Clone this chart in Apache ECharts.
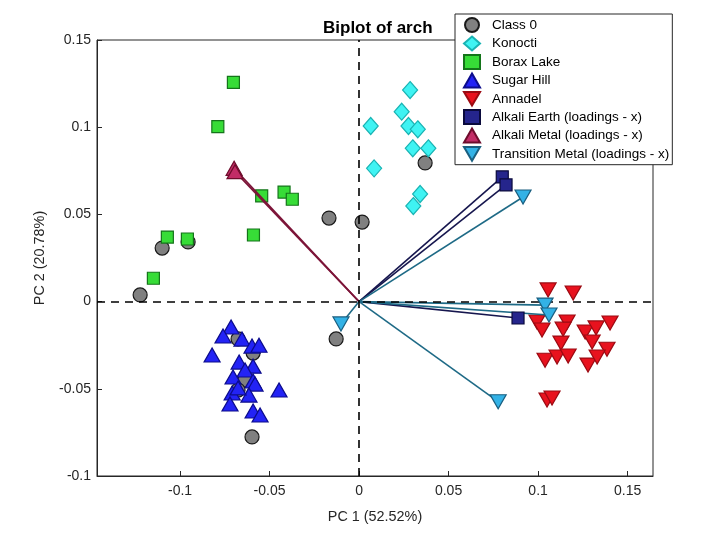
<!DOCTYPE html>
<html>
<head>
<meta charset="utf-8">
<script src="https://cdn.jsdelivr.net/npm/echarts@6/dist/echarts.min.js"></script>
<style>
html, body { margin: 0; padding: 0; background: #fff; }
#chart { width: 726px; height: 536px; }
</style>
</head>
<body>
<div id="chart"></div>
<script>
// scores per class (PC1, PC2)
const class0 = [
	[-0.1223, 0.0038], [-0.1100, 0.0307], [-0.0955, 0.0342], [-0.0168, 0.0479],
	[0.0017, 0.0456], [0.0369, 0.0795], [-0.0128, -0.0214], [-0.0598, -0.0776],
	[-0.0676, -0.0214], [-0.0592, -0.0295], [-0.0637, -0.0450], [-0.0676, -0.0507],
]
const konocti = [
	[0.0285, 0.1213], [0.0238, 0.1089], [0.0065, 0.1007], [0.0276, 0.1007],
	[0.0328, 0.0988], [0.0300, 0.0879], [0.0387, 0.0879], [0.0084, 0.0764],
	[0.0341, 0.0617], [0.0303, 0.0548],
]
const boraxLake = [
	[-0.0702, 0.1257], [-0.0789, 0.1003], [-0.0544, 0.0606], [-0.0419, 0.0628],
	[-0.0373, 0.0587], [-0.0590, 0.0382], [-0.1071, 0.0370], [-0.0959, 0.0359],
	[-0.1149, 0.0134],
]
const sugarHill = [
	[-0.0715, -0.0146], [-0.0760, -0.0197], [-0.0654, -0.0215], [-0.0598, -0.0255],
	[-0.0559, -0.0250], [-0.0821, -0.0306], [-0.0670, -0.0347], [-0.0592, -0.0370],
	[-0.0637, -0.0392], [-0.0704, -0.0432], [-0.0592, -0.0455], [-0.0581, -0.0473],
	[-0.0447, -0.0507], [-0.0615, -0.0536], [-0.0709, -0.0524], [-0.0676, -0.0495],
	[-0.0721, -0.0587], [-0.0592, -0.0627], [-0.0553, -0.0650],
]
const annadel = [
	[0.1056, 0.0067], [0.1196, 0.0049], [0.0994, -0.0117], [0.1022, -0.0163],
	[0.1162, -0.0117], [0.1140, -0.0158], [0.1263, -0.0174], [0.1324, -0.0151],
	[0.1402, -0.0123], [0.1302, -0.0232], [0.1128, -0.0238], [0.1385, -0.0273],
	[0.1039, -0.0336], [0.1106, -0.0318], [0.1168, -0.0312], [0.1279, -0.0364],
	[0.1330, -0.0318], [0.1050, -0.0564], [0.1078, -0.0553],
]
// loadings
const alkaliEarth = [[0.0800, 0.0715], [0.0821, 0.0669], [0.0888, -0.0094]]
const alkaliMetal = [[-0.0698, 0.0764], [-0.0693, 0.0745]]
const transitionMetal = [
	[0.0916, 0.0600], [0.1039, -0.0020], [0.1061, -0.0077], [0.0777, -0.0574], [-0.0101, -0.0128],
]

const xTicks = [-0.1, -0.05, 0, 0.05, 0.1, 0.15]
const font = 'Liberation Sans, Helvetica, Arial, sans-serif'
const downTri = 'path://M0,0L20,0L10,17Z'

function scoreSeries(name, data, symbol, size, fill, edge) {
	return {
		name: name,
		type: 'scatter',
		data: data,
		symbol: symbol,
		symbolSize: size,
		itemStyle: { color: fill, borderColor: edge, borderWidth: 1.2, opacity: 1 },
		z: 3,
	}
}

function loadingLines(data, color) {
	return {
		type: 'lines',
		coordinateSystem: 'cartesian2d',
		silent: true,
		data: data.map((p) => ({ coords: [[0, 0], p] })),
		lineStyle: { color: color, width: 1.6, opacity: 1 },
		z: 4,
	}
}

const chart = echarts.init(document.getElementById('chart'))
const option = {
	backgroundColor: '#fff',
	animation: false,
	title: {
		text: 'Biplot of arch',
		left: 318,
		top: 15,
		textStyle: { fontFamily: font, fontSize: 17, fontWeight: 'bold', color: '#000' },
	},
	grid: {
		left: 97,
		top: 40,
		width: 556,
		height: 436,
		show: true,
		borderColor: '#262626',
		borderWidth: 1,
		backgroundColor: '#fff',
	},
	legend: {
		orient: 'vertical',
		left: 455,
		top: 14,
		padding: [3, 3, 3, 8],
		itemWidth: 16,
		itemHeight: 14,
		itemGap: 2.5,
		backgroundColor: '#fff',
		borderColor: '#262626',
		borderWidth: 1,
		borderRadius: 0,
		textStyle: { fontFamily: font, fontSize: 13.5, color: '#000', padding: [0, 0, 0, 7] },
		z: 10,
		data: ['Class 0', 'Konocti', 'Borax Lake', 'Sugar Hill', 'Annadel',
			'Alkali Earth (loadings - x)', 'Alkali Metal (loadings - x)', 'Transition Metal (loadings - x)'],
	},
	xAxis: {
		type: 'value',
		min: -0.1464,
		max: 0.1642,
		name: 'PC 1 (52.52%)',
		nameLocation: 'middle',
		nameGap: 34,
		nameTextStyle: { fontFamily: font, fontSize: 14.4, color: '#262626' },
		axisLine: { onZero: false, lineStyle: { color: '#262626' } },
		axisTick: { inside: true, length: 5, customValues: xTicks, lineStyle: { color: '#262626' } },
		axisLabel: {
			customValues: xTicks,
			fontFamily: font, fontSize: 14, color: '#262626', margin: 8,
			formatter: (v) => String(+(+v).toFixed(2)),
		},
		splitLine: { show: false },
	},
	yAxis: {
		type: 'value',
		min: -0.1,
		max: 0.15,
		interval: 0.05,
		name: 'PC 2 (20.78%)',
		nameLocation: 'middle',
		nameGap: 50,
		nameTextStyle: { fontFamily: font, fontSize: 14.4, color: '#262626' },
		axisLine: { onZero: false, lineStyle: { color: '#262626' } },
		axisTick: { inside: true, length: 5, lineStyle: { color: '#262626' } },
		axisLabel: {
			fontFamily: font, fontSize: 14, color: '#262626', margin: 6,
			formatter: (v) => String(+(+v).toFixed(2)),
		},
		splitLine: { show: false },
	},
	series: [
		// dashed zero lines
		{
			type: 'scatter',
			data: [],
			silent: true,
			z: 1,
			markLine: {
				silent: true,
				symbol: 'none',
				label: { show: false },
				lineStyle: { color: '#000', type: [8, 6], width: 1.6 },
				data: [{ xAxis: 0 }, { yAxis: 0 }],
			},
		},
		scoreSeries('Class 0', class0, 'circle', 14, '#808080', '#1a1a1a'),
		scoreSeries('Konocti', konocti, 'diamond', [15, 17], '#3ff3f3', '#19b3b3'),
		scoreSeries('Borax Lake', boraxLake, 'rect', 12, '#37dc37', '#14741a'),
		scoreSeries('Sugar Hill', sugarHill, 'triangle', [16, 14], '#2323f5', '#0c0c8c'),
		scoreSeries('Annadel', annadel, downTri, [16, 14], '#e8121e', '#9c0a12'),
		loadingLines(alkaliEarth, '#16164e'),
		loadingLines(alkaliMetal, '#7c1438'),
		loadingLines(transitionMetal, '#1e6a86'),
		Object.assign(scoreSeries('Alkali Earth (loadings - x)', alkaliEarth, 'rect', 12, '#25258c', '#0a0a3c'), { z: 5 }),
		Object.assign(scoreSeries('Alkali Metal (loadings - x)', alkaliMetal, 'triangle', [16, 14], '#c22c66', '#6e0c2c'), { z: 5 }),
		Object.assign(scoreSeries('Transition Metal (loadings - x)', transitionMetal, downTri, [16, 14], '#33b2e6', '#1a5f80'), { z: 5 }),
	],
}
chart.setOption(option)
window.addEventListener('resize', () => {
	chart.resize()
})
</script>
</body>
</html>
